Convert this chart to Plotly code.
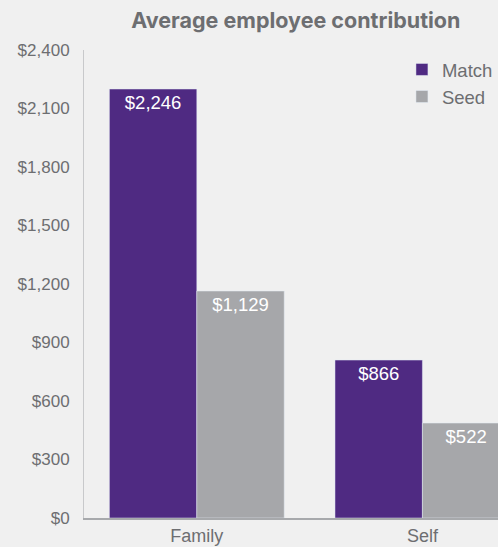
import plotly.graph_objects as go

categories = ["Family", "Self"]
match_values = [2200, 810]
seed_values = [1164, 487]
match_labels = ["$2,246", "$866"]
seed_labels = ["$1,129", "$522"]
tick_values = [0, 300, 600, 900, 1200, 1500, 1800, 2100, 2400]
tick_labels = ["$0", "$300", "$600", "$900", "$1,200", "$1,500", "$1,800", "$2,100", "$2,400"]

BG = "#f0f0f0"
PURPLE = "#4f2a82"
GREY = "#a6a7aa"
TXT = "#6d6e71"
FONT = "Liberation Sans, Arial, sans-serif"

fig = go.Figure()
fig.add_trace(go.Bar(
    x=categories, y=match_values, name="Match", marker_color=PURPLE,
    text=match_labels, textposition="inside", insidetextanchor="end",
    textfont=dict(color="white", size=18.5, family=FONT), textangle=0,
))
fig.add_trace(go.Bar(
    x=categories, y=seed_values, name="Seed", marker_color=GREY,
    text=seed_labels, textposition="inside", insidetextanchor="end",
    textfont=dict(color="white", size=18.5, family=FONT), textangle=0,
))

fig.update_layout(
    width=498, height=547,
    margin=dict(l=84, r=0, t=50, b=29),
    paper_bgcolor=BG, plot_bgcolor=BG,
    barmode="group", bargap=0.225, bargroupgap=0,
    font=dict(family=FONT, color=TXT, size=17),
    title=dict(text="<b>Average employee contribution</b>", x=0.594, xanchor="center",
               y=0.963, yanchor="middle",
               font=dict(family="Inter, Liberation Sans, sans-serif", size=21.5, color=TXT)),
    showlegend=True,
    legend=dict(x=0.768, y=0.998, xanchor="left", yanchor="top", bgcolor="rgba(0,0,0,0)",
                font=dict(size=18.5, color=TXT), itemwidth=30, tracegroupgap=0),
)
fig.update_xaxes(range=[-0.5, 1.335], showgrid=False, showline=True, linecolor="#a7a9ac",
                 linewidth=2, ticks="", tickfont=dict(size=18, color=TXT), fixedrange=True)
fig.update_yaxes(range=[0, 2400], tickvals=tick_values, ticktext=tick_labels, showgrid=False,
                 zeroline=False, showline=True, linecolor="#c8c9cb", linewidth=1,
                 ticks="", ticklabelstandoff=10, tickfont=dict(size=17, color=TXT))

fig.write_html("out.html")
